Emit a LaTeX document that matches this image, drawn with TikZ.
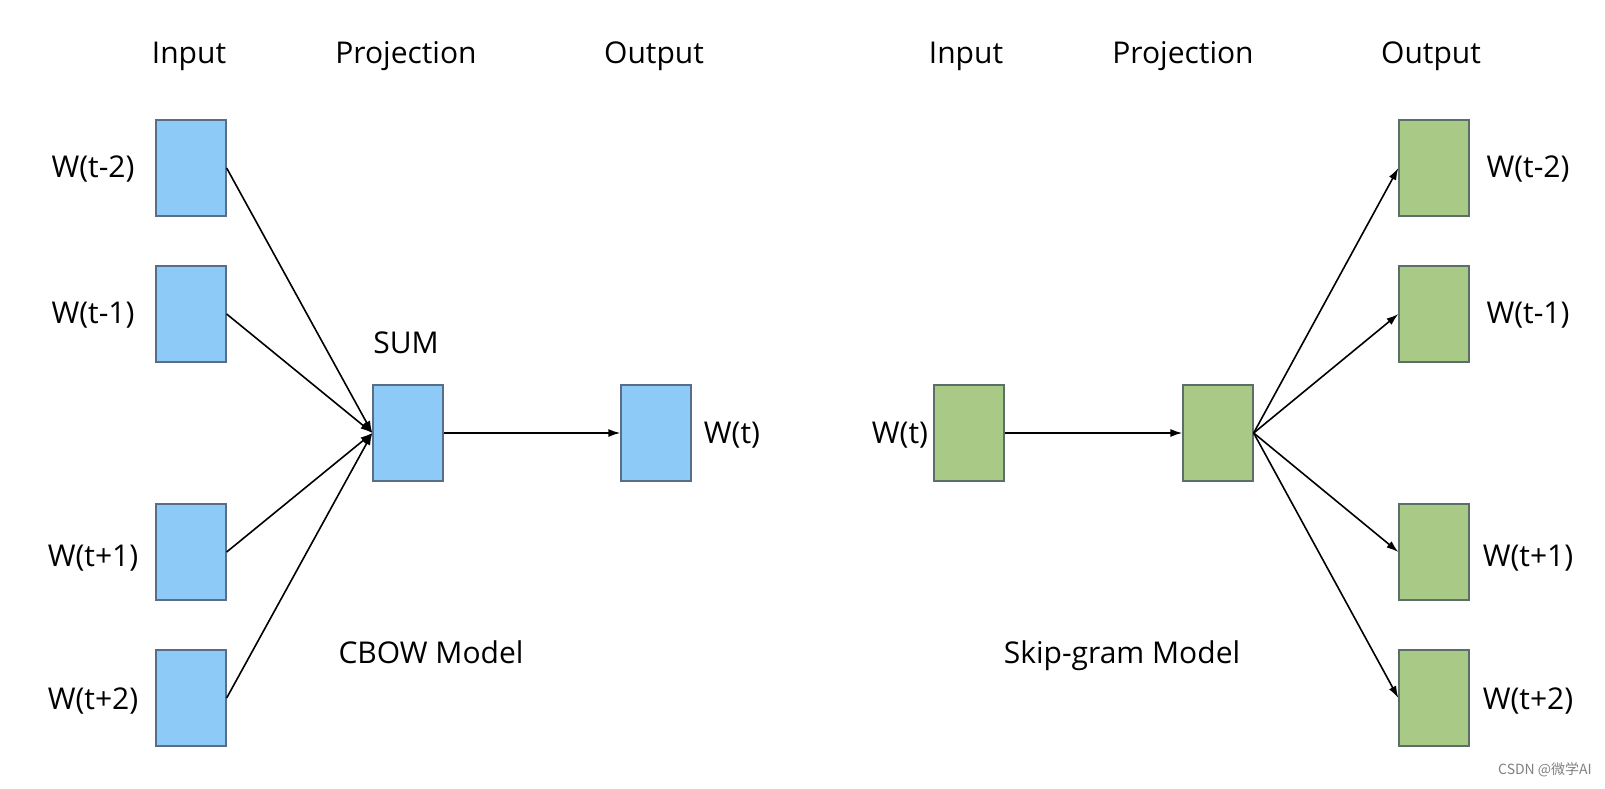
\documentclass[tikz,border=0pt]{standalone}
\usepackage{fontspec}
\setmainfont{Open Sans}
\newfontfamily\cjkfont{Noto Sans CJK SC}
\usetikzlibrary{arrows.meta}
\definecolor{bluefill}{RGB}{142,202,248}
\definecolor{blueedge}{RGB}{88,110,132}
\definecolor{greenfill}{RGB}{169,201,135}
\definecolor{greenedge}{RGB}{92,110,104}
\tikzset{
  cell/.style={draw, line width=1.3pt, minimum width=70pt, minimum height=96pt, inner sep=0pt},
  bcell/.style={cell, fill=bluefill, draw=blueedge},
  gcell/.style={cell, fill=greenfill, draw=greenedge},
  lbl/.style={font=\fontsize{30}{36}\selectfont, inner sep=0pt, text height=22pt, text depth=6pt},
  conn/.style={line width=1.6pt, -{Latex[length=12pt,width=8pt]}}
}
\begin{document}
\begin{tikzpicture}[x=1pt,y=-1pt]
\useasboundingbox (0,0) rectangle (1605,788);
% CBOW
\node[lbl] (hin1) at (189,55) {Input};
\node[lbl] (hpr1) at (406,55) {Projection};
\node[lbl] (hout1) at (654,55) {Output};
\node[bcell] (a1) at (191,168) {};
\node[bcell] (a2) at (191,314) {};
\node[bcell] (a3) at (191,552) {};
\node[bcell] (a4) at (191,698) {};
\node[lbl] (la1) at (93,169) {W(t-2)};
\node[lbl] (la2) at (93,315) {W(t-1)};
\node[lbl] (la3) at (93,558) {W(t+1)};
\node[lbl] (la4) at (93,701) {W(t+2)};
\node[bcell] (sum) at (408,433) {};
\node[lbl] (lsum) at (406,345) {SUM};
\node[bcell] (out) at (656,433) {};
\node[lbl] (lout) at (732,435) {W(t)};
\node[lbl] (cbow) at (431,655) {CBOW Model};
\foreach \i in {a1,a2,a3,a4} \draw[conn] (\i.east) -- (sum.west);
\draw[conn] (sum.east) -- (out.west);
% Skip-gram
\node[lbl] (hin2) at (966,55) {Input};
\node[lbl] (hpr2) at (1183,55) {Projection};
\node[lbl] (hout2) at (1431,55) {Output};
\node[gcell] (in) at (969,433) {};
\node[lbl] (lin) at (900,435) {W(t)};
\node[gcell] (proj) at (1218,433) {};
\node[gcell] (b1) at (1434,168) {};
\node[gcell] (b2) at (1434,314) {};
\node[gcell] (b3) at (1434,552) {};
\node[gcell] (b4) at (1434,698) {};
\node[lbl] (lb1) at (1528,169) {W(t-2)};
\node[lbl] (lb2) at (1528,315) {W(t-1)};
\node[lbl] (lb3) at (1528,558) {W(t+1)};
\node[lbl] (lb4) at (1528,701) {W(t+2)};
\node[lbl] (skip) at (1122,655) {Skip-gram Model};
\draw[conn] (in.east) -- (proj.west);
\foreach \i in {b1,b2,b3,b4} \draw[conn] (proj.east) -- (\i.west);
% watermark
\node[font=\cjkfont\fontsize{14}{16}\selectfont, text=gray, inner sep=0pt] (wm) at (1545,770) {CSDN @微学AI};
\end{tikzpicture}
\end{document}
